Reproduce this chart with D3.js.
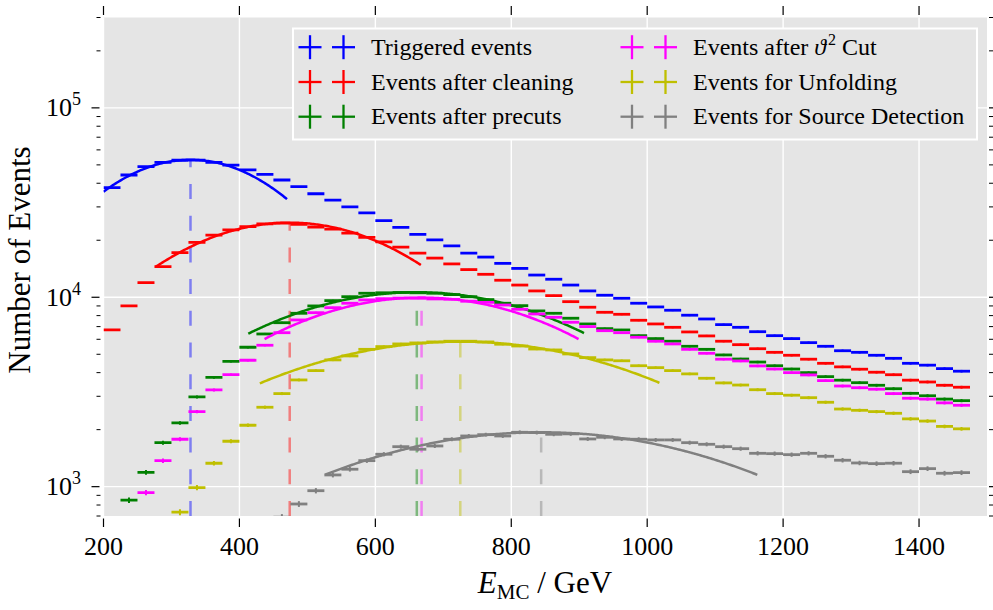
<!DOCTYPE html>
<html>
<head>
<meta charset="utf-8">
<script src="https://cdn.jsdelivr.net/npm/d3@7/dist/d3.min.js"></script>
<style>
  body { margin: 0; background: #fff; }
  svg { display: block; }
  text { font-family: "Liberation Serif", "DejaVu Serif", serif; fill: #000; }
</style>
</head>
<body>
<svg id="chart" width="993" height="610"></svg>
<script>
// Energy binning (lower bin edges, GeV) and bin width
const binLow = d3.range(200, 1475, 25);
const binWidth = 25;

// Event counts per energy bin (null = no entry / not shown)
const triggered = [37900, 44200, 48900, 51600, 52900, 53000, 51600, 49800, 47000, 44600,
  41600, 38400, 35200, 32600, 30000, 27900, 25400, 23400, 21500, 20100,
  18700, 17100, 16300, 15100, 14200, 13100, 12450, 11600, 10800, 10250,
  9880, 9300, 8890, 8540, 8040, 7680, 7170, 6940, 6580, 6270,
  6050, 5760, 5510, 5220, 5120, 4940, 4760, 4480, 4380, 4200, 4070];
const afterCleaning = [6720, 9000, 11940, 14500, 17200, 19500, 21300, 22700, 23600, 24400,
  24600, 24300, 23500, 22900, 21800, 20700, 19600, 18400, 17100, 16100,
  15000, 14000, 13220, 12300, 11600, 10800, 10200, 9480, 8860, 8330,
  8130, 7560, 7230, 6940, 6560, 6250, 5860, 5620, 5350, 5120,
  4940, 4710, 4480, 4290, 4170, 4020, 3900, 3650, 3570, 3430, 3350];
const afterPrecuts = [null, 848, 1191, 1708, 2170, 2976, 3780, 4590, 5445, 6400,
  7340, 8230, 9000, 9600, 10070, 10500, 10560, 10600, 10560, 10500,
  10330, 10070, 9720, 9300, 9030, 8470, 8230, 7750, 7230, 6830,
  6720, 6270, 6050, 5860, 5510, 5310, 4960, 4720, 4550, 4350,
  4180, 4000, 3810, 3650, 3540, 3430, 3290, 3110, 3020, 2900, 2845];
const afterThetaCut = [null, null, 930, 1372, 1780, 2490, 3240, 3900, 4650, 5580,
  6500, 7590, 8290, 8810, 9300, 9680, 9830, 9900, 9880, 9800,
  9760, 9530, 9400, 9100, 8640, 8160, 7840, 7380, 7000, 6660,
  6500, 6150, 5860, 5670, 5310, 5060, 4710, 4610, 4340, 4180,
  4000, 3890, 3630, 3400, 3330, 3270, 3100, 2930, 2900, 2770, 2690];
const forUnfolding = [null, null, null, null, 733, 988, 1329, 1737, 2110, 2626,
  3100, 3660, 4100, 4670, 4900, 5310, 5490, 5670, 5740, 5810,
  5860, 5860, 5810, 5650, 5530, 5330, 5270, 5020, 4800, 4670,
  4620, 4350, 4250, 4100, 3940, 3735, 3530, 3440, 3250, 3100,
  3040, 2950, 2790, 2570, 2530, 2490, 2440, 2280, 2220, 2080, 2020];
const forSourceDetection = [null, null, null, null, null, null, null, null, null, null,
  690, 810, 952, 1153, 1236, 1372, 1483, 1626, 1576, 1640,
  1780, 1852, 1882, 1852, 1937, 1930, 1890, 1900, 1786, 1823,
  1786, 1780, 1765, 1765, 1707, 1674, 1626, 1587, 1500, 1494,
  1476, 1500, 1447, 1379, 1334, 1323, 1330, 1200, 1245, 1177, 1186];

const seriesValues = [triggered, afterCleaning, afterPrecuts, afterThetaCut, forUnfolding, forSourceDetection];
const seriesLabels = ["Triggered events", "Events after cleaning", "Events after precuts",
  "Events after \u03d1\u00b2 Cut", "Events for Unfolding", "Events for Source Detection"];
const seriesColors = ["#0000ff", "#ff0000", "#008000", "#ff00ff", "#bfbf00", "#808080"];

// Log-parabola fits around each maximum: peak energy, peak height, curvature, fit range
const fitPeakEnergy = [328, 474, 661, 668, 725, 844];
const fitPeakHeight = [53200, 24770, 10630, 9960, 5830, 1937];
const fitCurvature = [1.03e-5, 6.0e-6, 3.56e-6, 4.1e-6, 2.53e-6, 2.22e-6];
const fitFrom = [200, 277, 413, 437, 430, 526];
const fitTo = [470, 668, 908, 899, 1018, 1163];

const xTickValues = [200, 400, 600, 800, 1000, 1200, 1400];
const yDecades = [1e3, 1e4, 1e5];

// ---- layout ----
const svg = d3.select("#chart");
const plot = { left: 103.5, right: 987, top: 17.5, bottom: 516 };
const x = d3.scaleLinear().domain([200, 1500]).range([plot.left, plot.right]);
const y = d3.scaleLog().domain([700, 3e5]).range([plot.bottom, plot.top]);

// background panel
svg.append("rect")
  .attr("x", plot.left).attr("y", plot.top)
  .attr("width", plot.right - plot.left).attr("height", plot.bottom - plot.top)
  .attr("fill", "#e5e5e5");

// grid
const grid = svg.append("g").attr("stroke", "#fff").attr("stroke-width", 1.4);
grid.selectAll("line.gx").data(xTickValues).join("line")
  .attr("x1", d => x(d)).attr("x2", d => x(d))
  .attr("y1", plot.top).attr("y2", plot.bottom);
grid.selectAll("line.gy").data(yDecades).join("line")
  .attr("x1", plot.left).attr("x2", plot.right)
  .attr("y1", d => y(d)).attr("y2", d => y(d));

// ticks
const ticks = svg.append("g").attr("stroke", "#000");
xTickValues.forEach(v => {
  ticks.append("line").attr("stroke-width", 1.2)
    .attr("x1", x(v)).attr("x2", x(v)).attr("y1", plot.bottom + 2.5).attr("y2", plot.bottom + 11);
  ticks.append("line").attr("stroke-width", 1.2)
    .attr("x1", x(v)).attr("x2", x(v)).attr("y1", plot.top - 2.5).attr("y2", plot.top - 11.5);
});
const yMinor = [];
[100, 1000, 10000, 100000].forEach(dec => {
  for (let k = 2; k <= 9; k++) {
    const v = dec * k;
    if (v >= 690 && v <= 3.05e5) yMinor.push(v);
  }
});
yDecades.forEach(v => {
  ticks.append("line").attr("stroke-width", 1.2)
    .attr("x1", plot.left - 12).attr("x2", plot.left - 4).attr("y1", y(v)).attr("y2", y(v));
  ticks.append("line").attr("stroke-width", 1.2)
    .attr("x1", plot.right + 2).attr("x2", plot.right + 10).attr("y1", y(v)).attr("y2", y(v));
});
yMinor.forEach(v => {
  ticks.append("line").attr("stroke-width", 1)
    .attr("x1", plot.left - 7).attr("x2", plot.left - 3).attr("y1", y(v)).attr("y2", y(v));
  ticks.append("line").attr("stroke-width", 1)
    .attr("x1", plot.right + 2).attr("x2", plot.right + 6).attr("y1", y(v)).attr("y2", y(v));
});

// tick labels
svg.append("g").selectAll("text").data(xTickValues).join("text")
  .attr("x", d => x(d)).attr("y", 555)
  .attr("text-anchor", "middle").attr("font-size", 26)
  .text(d => d);
yDecades.forEach(v => {
  const t = svg.append("text")
    .attr("x", 81).attr("y", y(v) + 8.5)
    .attr("text-anchor", "end").attr("font-size", 26);
  t.append("tspan").text("10");
  t.append("tspan").attr("font-size", 18).attr("dy", -11).text(Math.round(Math.log10(v)));
});

// axis titles
svg.append("text")
  .attr("transform", "translate(30,260) rotate(-90)")
  .attr("text-anchor", "middle").attr("font-size", 31)
  .text("Number of Events");
const xt = svg.append("text")
  .attr("x", 545).attr("y", 593)
  .attr("text-anchor", "middle").attr("font-size", 31);
xt.append("tspan").attr("font-style", "italic").text("E");
xt.append("tspan").attr("font-size", 21).attr("dy", 6).text("MC");
xt.append("tspan").attr("dy", -6).text(" / GeV");

// data
svg.append("clipPath").attr("id", "plotClip").append("rect")
  .attr("x", plot.left).attr("y", plot.top)
  .attr("width", plot.right - plot.left).attr("height", plot.bottom - plot.top);
const data = svg.append("g").attr("clip-path", "url(#plotClip)");

const fitLine = d3.line().x(d => x(d[0])).y(d => y(d[1])).curve(d3.curveLinear);

seriesValues.forEach((vals, si) => {
  const color = seriesColors[si];
  const pts = vals.map((v, i) => ({ lo: binLow[i], v })).filter(d => d.v != null);
  const g = data.append("g").attr("stroke", color).attr("stroke-width", 2.8);
  g.selectAll("line.h").data(pts).join("line")
    .attr("x1", d => x(d.lo)).attr("x2", d => x(d.lo + binWidth))
    .attr("y1", d => y(d.v)).attr("y2", d => y(d.v));
  g.selectAll("line.v").data(pts).join("line").attr("stroke-width", 2)
    .attr("x1", d => x(d.lo + binWidth / 2)).attr("x2", d => x(d.lo + binWidth / 2))
    .attr("y1", d => y(d.v - Math.sqrt(d.v))).attr("y2", d => y(d.v + Math.sqrt(d.v)));

  // fitted log-parabola
  const e0 = fitPeakEnergy[si], n0 = fitPeakHeight[si], c = fitCurvature[si];
  const curve = d3.range(fitFrom[si], fitTo[si] + 0.001, 2).map(e =>
    [e, Math.pow(10, Math.log10(n0) - c * (e - e0) * (e - e0))]);
  data.append("path").attr("d", fitLine(curve))
    .attr("fill", "none").attr("stroke", color).attr("stroke-width", 2.5);

  // peak marker
  data.append("line")
    .attr("x1", x(e0)).attr("x2", x(e0))
    .attr("y1", plot.bottom).attr("y2", y(n0))
    .attr("stroke", color).attr("stroke-opacity", 0.45)
    .attr("stroke-width", 2.5).attr("stroke-dasharray", "15,16.7");
});

// legend
const legend = svg.append("g");
legend.append("rect")
  .attr("x", 293).attr("y", 28.5).attr("width", 684).attr("height", 111)
  .attr("fill", "#e5e5e5").attr("stroke", "#fff").attr("stroke-width", 2);
const colX = [310, 632];
const rowY = [47.2, 82, 116.7];
seriesLabels.forEach((label, i) => {
  const col = Math.floor(i / 3), row = i % 3;
  const cx = colX[col], cy = rowY[row];
  [0, 33.5].forEach(off => {
    legend.append("line").attr("stroke", seriesColors[i]).attr("stroke-width", 2.3)
      .attr("x1", cx + off - 11.5).attr("x2", cx + off + 11.5).attr("y1", cy).attr("y2", cy);
    legend.append("line").attr("stroke", seriesColors[i]).attr("stroke-width", 2.3)
      .attr("x1", cx + off).attr("x2", cx + off).attr("y1", cy - 12).attr("y2", cy + 12);
  });
  const t = legend.append("text").attr("x", cx + 61).attr("y", cy + 7.5).attr("font-size", 24);
  if (label.includes("\u03d1")) {
    t.append("tspan").text("Events after ");
    t.append("tspan").attr("font-style", "italic").text("\u03d1");
    t.append("tspan").attr("font-size", 16).attr("dx", 2).attr("dy", -10).text("2");
    t.append("tspan").attr("dy", 10).text(" Cut");
  } else {
    t.text(label);
  }
});
</script>
</body>
</html>
